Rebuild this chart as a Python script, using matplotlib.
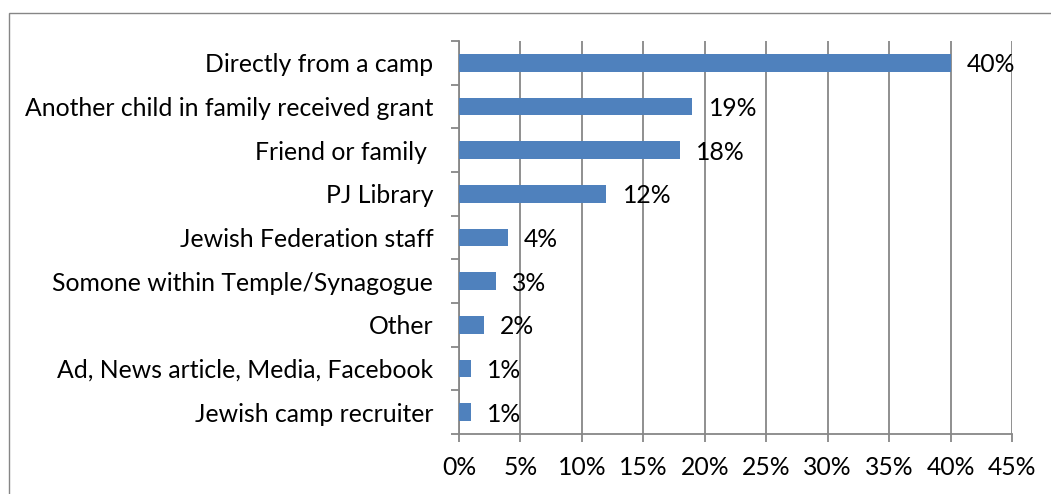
import matplotlib
matplotlib.use("Agg")
import matplotlib.pyplot as plt
from matplotlib.patches import Rectangle
from matplotlib.ticker import FixedLocator

categories = [
    "Directly from a camp",
    "Another child in family received grant",
    "Friend or family ",
    "PJ Library",
    "Jewish Federation staff",
    "Somone within Temple/Synagogue",
    "Other",
    "Ad, News article, Media, Facebook",
    "Jewish camp recruiter",
]
values = [40, 19, 18, 12, 4, 3, 2, 1, 1]
value_labels = ["40%", "19%", "18%", "12%", "4%", "3%", "2%", "1%", "1%"]
x_ticks = [0, 5, 10, 15, 20, 25, 30, 35, 40, 45]
x_tick_labels = ["0%", "5%", "10%", "15%", "20%", "25%", "30%", "35%", "40%", "45%"]

plt.rcParams["font.family"] = ["Lato", "DejaVu Sans"]
W, H = 1051, 494
FS = 17.8
fig = plt.figure(figsize=(W / 100, H / 100), dpi=100)

# outer chart border
fig.patches.append(Rectangle((8.5 / W, -0.1), 1.2, 1 - 12.5 / H + 0.1,
                             transform=fig.transFigure, fill=False,
                             edgecolor="#868686", linewidth=1.0))

left, right, top, bottom = 459 / W, 1012 / W, 1 - 41 / H, 1 - 434 / H
ax = fig.add_axes([left, bottom, right - left, top - bottom])

n = len(categories)
ypos = list(range(n))
ax.barh(ypos, values, height=0.4, color="#4F81BD", zorder=3)
ax.set_ylim(n - 0.5, -0.5)
ax.set_xlim(0, 45)

for y, v, lab in zip(ypos, values, value_labels):
    ax.annotate(lab, xy=(v, y), xytext=(11.5, -1.5), textcoords="offset points",
                ha="left", va="center", fontsize=FS, color="black", zorder=4)

ax.set_xticks(x_ticks)
ax.set_xticklabels(x_tick_labels, fontsize=FS)
ax.xaxis.grid(True, color="#878787", linewidth=1.3, zorder=0)

# category labels at centers, ticks at boundaries
ax.set_yticks(ypos)
ax.set_yticklabels(categories, fontsize=FS)
ax.tick_params(axis="y", which="major", length=0, pad=18.5)
ax.yaxis.set_minor_locator(FixedLocator([i - 0.5 for i in range(n + 1)]))
ax.tick_params(axis="y", which="minor", length=6, width=1.3, color="#878787")
ax.tick_params(axis="x", length=6, width=1.3, color="#878787", pad=10)

for s in ["top", "right"]:
    ax.spines[s].set_visible(False)
for s in ["left", "bottom"]:
    ax.spines[s].set_color("#878787")
    ax.spines[s].set_linewidth(1.3)

fig.savefig("out.png", dpi=100)
